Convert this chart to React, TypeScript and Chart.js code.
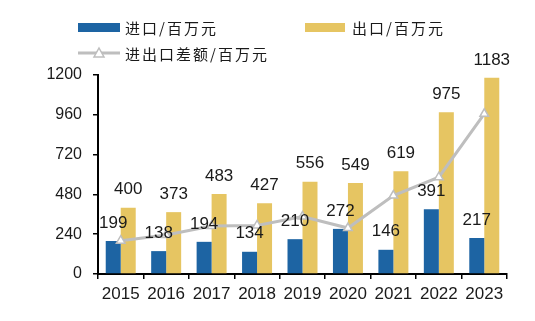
import React, { useEffect, useRef } from "react";
import { Chart, registerables } from "chart.js";

Chart.register(...registerables);

const years = ["2015", "2016", "2017", "2018", "2019", "2020", "2021", "2022", "2023"];
const imports = [199, 138, 194, 134, 210, 272, 146, 391, 217];
const exports = [400, 373, 483, 427, 556, 549, 619, 975, 1183];
const balance = [201, 235, 289, 293, 346, 277, 473, 584, 966];
const yTicks = [0, 240, 480, 720, 960, 1200];

const importLabel = "进口/百万元";
const exportLabel = "出口/百万元";
const balanceLabel = "进出口差额/百万元";

const BLUE = "#1D64A3";
const GOLD = "#E6C562";
const GRAY = "#BEBEBE";
const TEXT = "#1a1a1a";

const labelPlugin = {
  id: "barLabels",
  afterDatasetsDraw(chart: any) {
    const ctx = chart.ctx;
    ctx.save();
    ctx.font = '17px "Liberation Sans", Arial, sans-serif';
    ctx.fillStyle = TEXT;
    ctx.textAlign = "center";
    ctx.textBaseline = "middle";
    [0, 1].forEach((di) => {
      const meta = chart.getDatasetMeta(di);
      const data = chart.data.datasets[di].data as number[];
      meta.data.forEach((el: any, i: number) => {
        ctx.fillText(String(data[i]), el.x, el.y - 18);
      });
    });
    ctx.restore();
  },
};

const legendPlugin = {
  id: "customLegend",
  afterDraw(chart: any) {
    const ctx = chart.ctx;
    ctx.save();
    ctx.font = '15px "Noto Sans CJK SC", sans-serif';
    ctx.fillStyle = TEXT;
    ctx.textBaseline = "middle";
    ctx.textAlign = "left";
    try {
      (ctx as any).letterSpacing = "2px";
    } catch (e) {}
    // row 1
    ctx.fillStyle = BLUE;
    ctx.fillRect(78, 23, 42, 9);
    ctx.fillStyle = TEXT;
    ctx.fillText(importLabel, 125, 28);
    ctx.fillStyle = GOLD;
    ctx.fillRect(305, 23, 40, 9);
    ctx.fillStyle = TEXT;
    ctx.fillText(exportLabel, 352, 28);
    // row 2
    ctx.strokeStyle = GRAY;
    ctx.lineWidth = 3;
    ctx.beginPath();
    ctx.moveTo(78, 53);
    ctx.lineTo(120, 53);
    ctx.stroke();
    ctx.fillStyle = "#fff";
    ctx.lineWidth = 1.5;
    ctx.beginPath();
    ctx.moveTo(99, 48);
    ctx.lineTo(104, 57);
    ctx.lineTo(94, 57);
    ctx.closePath();
    ctx.fill();
    ctx.stroke();
    ctx.fillStyle = TEXT;
    ctx.fillText(balanceLabel, 125, 54);
    ctx.restore();
  },
};

export default function App() {
  const ref = useRef<HTMLCanvasElement>(null);
  useEffect(() => {
    if (!ref.current) return;
    const chart = new Chart(ref.current, {
      type: "bar",
      data: {
        labels: years,
        datasets: [
          {
            type: "bar",
            label: importLabel,
            data: imports,
            backgroundColor: BLUE,
            categoryPercentage: 0.66,
            barPercentage: 1,
            order: 2,
          },
          {
            type: "bar",
            label: exportLabel,
            data: exports,
            backgroundColor: GOLD,
            categoryPercentage: 0.66,
            barPercentage: 1,
            order: 2,
          },
          {
            type: "line",
            label: balanceLabel,
            data: balance,
            borderColor: GRAY,
            borderWidth: 3,
            pointStyle: "triangle",
            pointRadius: 5,
            pointBackgroundColor: "#fff",
            pointBorderColor: GRAY,
            pointBorderWidth: 1.5,
            tension: 0,
            order: 0,
          } as any,
        ],
      },
      options: {
        responsive: false,
        animation: false,
        layout: { padding: { left: 0, right: 28, top: 75, bottom: 0 } },
        plugins: {
          legend: { display: false },
          tooltip: { enabled: false },
        },
        scales: {
          x: {
            offset: true,
            grid: {
              display: true,
              drawOnChartArea: false,
              drawTicks: true,
              offset: true,
              tickLength: 5,
              color: "#000",
              lineWidth: 1.5,
            },
            border: { display: true, color: "#000", width: 2 },
            ticks: {
              font: { size: 17, family: '"Liberation Sans", Arial, sans-serif' },
              color: TEXT,
              maxRotation: 0,
              autoSkip: false,
              padding: 5,
            },
            afterFit(scale: any) {
              scale.height = 47;
            },
          },
          y: {
            min: 0,
            max: 1200,
            afterBuildTicks(scale: any) {
              scale.ticks = yTicks.map((v) => ({ value: v }));
            },
            grid: {
              display: true,
              drawOnChartArea: false,
              drawTicks: true,
              tickLength: 5,
              color: "#000",
              lineWidth: 1.5,
            },
            border: { display: true, color: "#000", width: 2 },
            ticks: {
              font: { size: 16, family: '"Liberation Sans", Arial, sans-serif' },
              color: TEXT,
              padding: 11,
              callback: (v: any) => String(v),
            },
            afterFit(scale: any) {
              scale.width = 98;
            },
          },
        },
      },
      plugins: [labelPlugin, legendPlugin],
    });
    return () => chart.destroy();
  }, []);
  return (
    <div style={{ position: "fixed", left: 0, top: 0, width: 535, height: 321, background: "#fff" }}>
      <canvas ref={ref} width={535} height={321} />
    </div>
  );
}
